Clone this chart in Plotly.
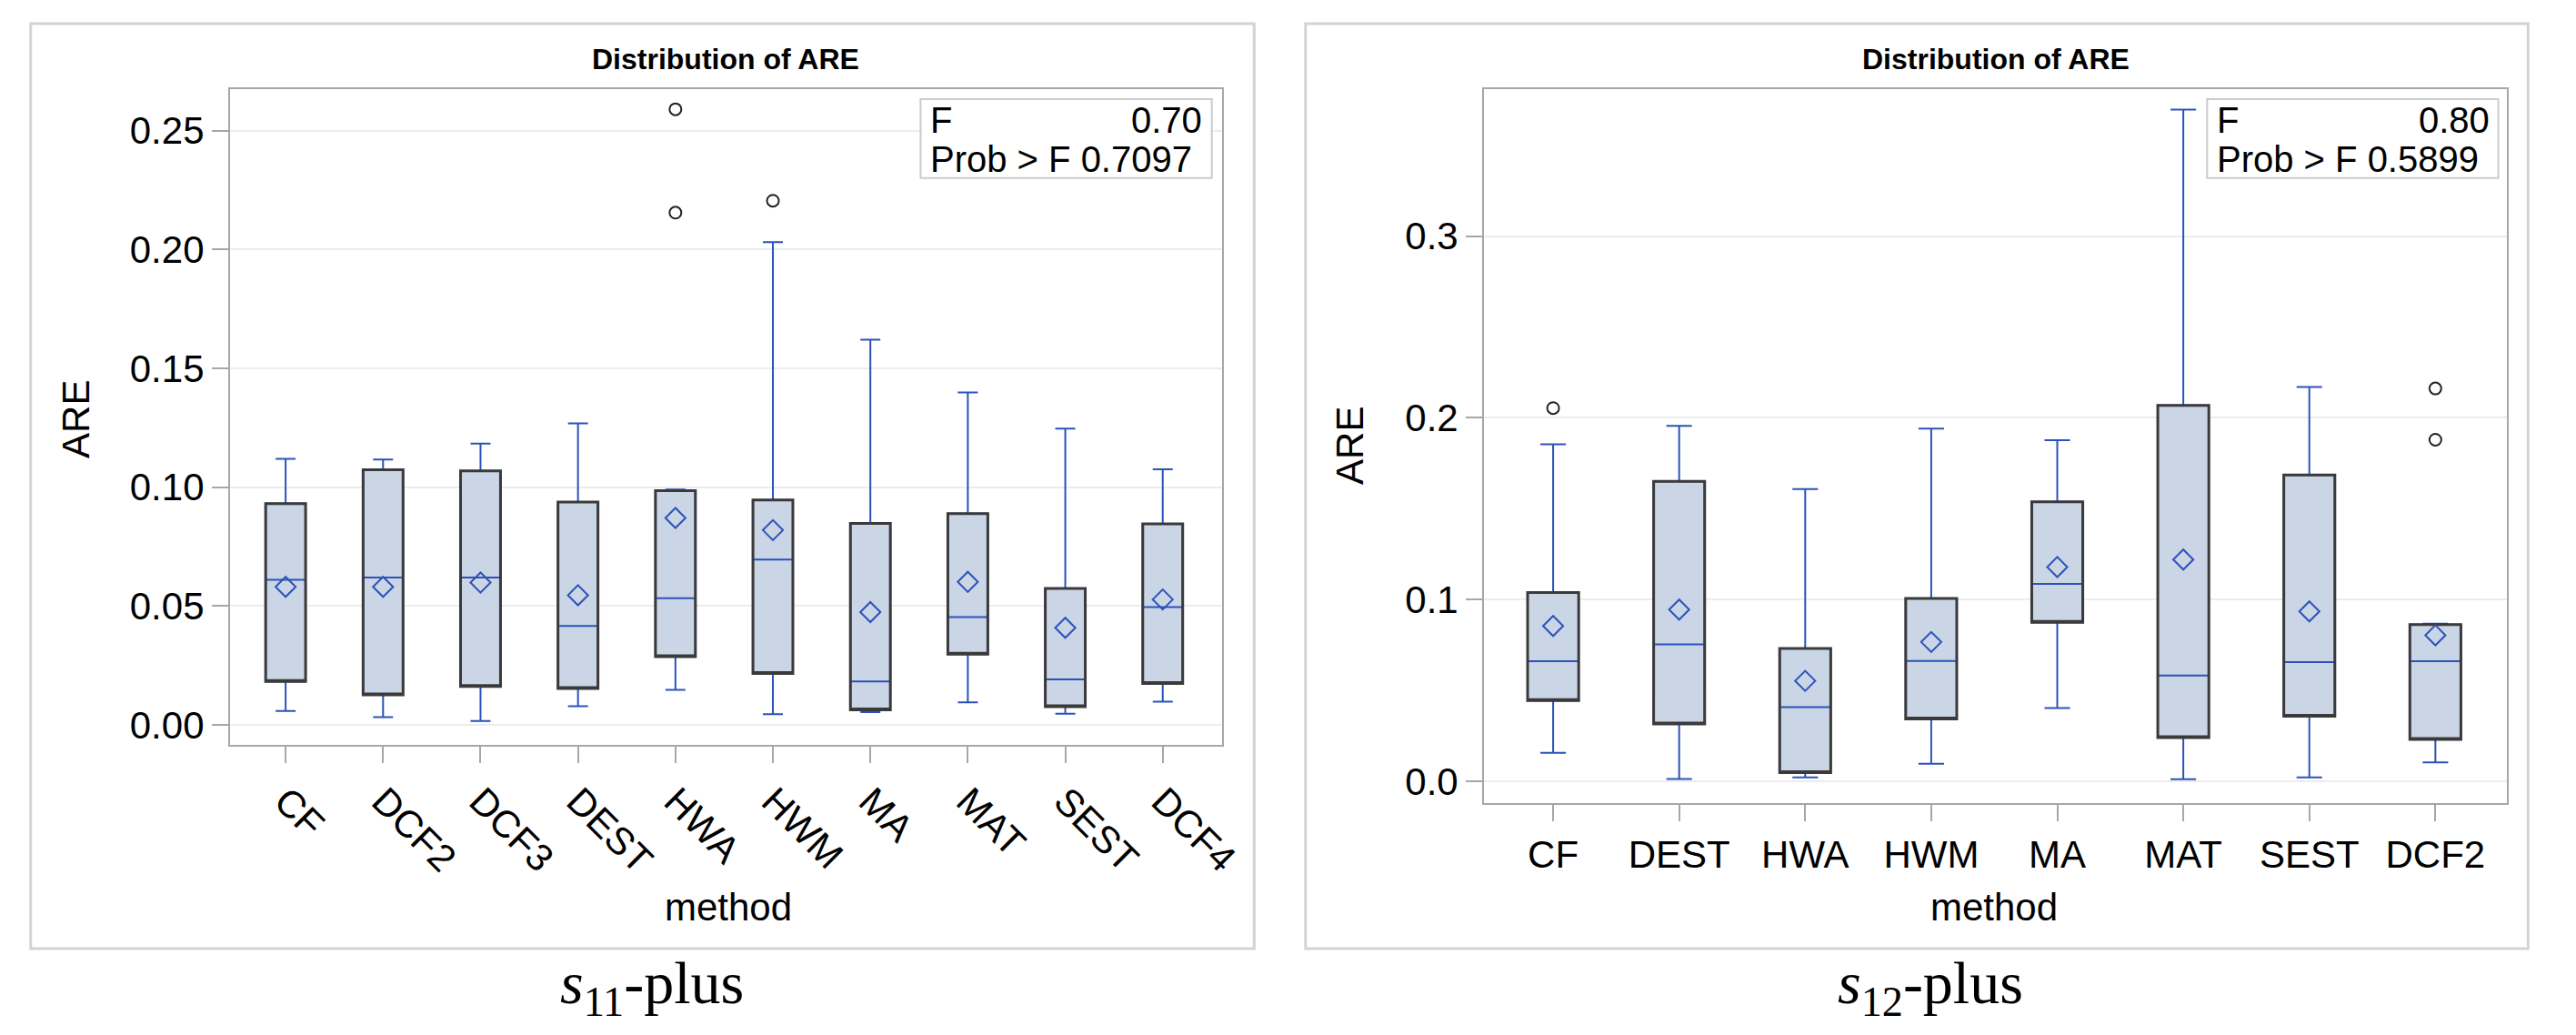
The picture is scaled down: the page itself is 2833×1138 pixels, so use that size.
import plotly.graph_objects as go

# ---------------- data ----------------
left_methods = ["CF", "DCF2", "DCF3", "DEST", "HWA", "HWM", "MA", "MAT", "SEST", "DCF4"]
left_upper = [0.1119, 0.1116, 0.1183, 0.1268, 0.0990, 0.2031, 0.1620, 0.1398, 0.1246, 0.1075]
left_q3 = [0.0930, 0.1073, 0.1068, 0.0937, 0.0985, 0.0946, 0.0847, 0.0888, 0.0573, 0.0845]
left_median = [0.0610, 0.0619, 0.0619, 0.0416, 0.0532, 0.0695, 0.0182, 0.0453, 0.0191, 0.0495]
left_mean = [0.0580, 0.0580, 0.0598, 0.0545, 0.0870, 0.0819, 0.0474, 0.0601, 0.0408, 0.0527]
left_q1 = [0.0182, 0.0126, 0.0161, 0.0152, 0.0286, 0.0216, 0.0062, 0.0297, 0.0076, 0.0173]
left_lower = [0.0058, 0.0032, 0.0016, 0.0078, 0.0147, 0.0044, 0.0053, 0.0094, 0.0046, 0.0097]
left_out_method = ["HWA", "HWA", "HWM"]
left_out_value = [0.2590, 0.2155, 0.2205]
left_F = "0.70"
left_p = "0.7097"
left_ticks = [0.00, 0.05, 0.10, 0.15, 0.20, 0.25]
left_ticklabels = ["0.00", "0.05", "0.10", "0.15", "0.20", "0.25"]

right_methods = ["CF", "DEST", "HWA", "HWM", "MA", "MAT", "SEST", "DCF2"]
right_upper = [0.1855, 0.1956, 0.1608, 0.1941, 0.1878, 0.3695, 0.2170, 0.0868]
right_q3 = [0.1040, 0.1651, 0.0732, 0.1007, 0.1538, 0.2069, 0.1686, 0.0863]
right_median = [0.0662, 0.0755, 0.0410, 0.0664, 0.1087, 0.0584, 0.0657, 0.0662]
right_mean = [0.0856, 0.0946, 0.0554, 0.0768, 0.1180, 0.1221, 0.0936, 0.0805]
right_q1 = [0.0446, 0.0317, 0.0050, 0.0345, 0.0876, 0.0242, 0.0360, 0.0232]
right_lower = [0.0159, 0.0015, 0.0023, 0.0098, 0.0405, 0.0013, 0.0023, 0.0106]
right_out_method = ["CF", "DCF2", "DCF2"]
right_out_value = [0.2054, 0.2162, 0.1880]
right_F = "0.80"
right_p = "0.5899"
right_ticks = [0.0, 0.1, 0.2, 0.3]
right_ticklabels = ["0.0", "0.1", "0.2", "0.3"]

# ---------------- styling ----------------
W, H = 2833, 1138
FILL = "#CAD5E6"
BLUE = "#2B52BA"
DARK = "#3A3A3A"
AXIS = "#A4A8AD"
GRID = "#ECECEC"
SANS = "Liberation Sans"
SERIF = "Liberation Serif"


def px(x):
    return x / W


def py(y):
    return 1 - y / H


fig = go.Figure()


def add_panel(methods, q1, med, q3, lo, hi, mean, out_m, out_v, xa, ya, bw):
    # fill + blue whiskers/median
    fig.add_trace(go.Box(
        x=methods, q1=q1, median=med, q3=q3, lowerfence=lo, upperfence=hi,
        xaxis=xa, yaxis=ya, fillcolor=FILL, line=dict(color=BLUE, width=2),
        width=bw, whiskerwidth=0.5, boxpoints=False, hoverinfo="skip"))
    # dark box outline
    fig.add_trace(go.Box(
        x=methods, q1=q1, median=q1, q3=q3, lowerfence=q1, upperfence=q3,
        xaxis=xa, yaxis=ya, fillcolor="rgba(0,0,0,0)", line=dict(color=DARK, width=3),
        width=bw, whiskerwidth=0.0, boxpoints=False, hoverinfo="skip"))
    # means
    fig.add_trace(go.Scatter(
        x=methods, y=mean, xaxis=xa, yaxis=ya, mode="markers",
        marker=dict(symbol="diamond-open", size=17, color=BLUE, line=dict(width=2)),
        hoverinfo="skip"))
    # outliers
    fig.add_trace(go.Scatter(
        x=out_m, y=out_v, xaxis=xa, yaxis=ya, mode="markers",
        marker=dict(symbol="circle-open", size=13, color="#222222", line=dict(width=2)),
        hoverinfo="skip"))


add_panel(left_methods, left_q1, left_median, left_q3, left_lower, left_upper,
          left_mean, left_out_method, left_out_value, "x", "y", 0.41)
add_panel(right_methods, right_q1, right_median, right_q3, right_lower, right_upper,
          right_mean, right_out_method, right_out_value, "x2", "y2", 0.405)

common_axis = dict(showline=True, mirror=True, linecolor=AXIS, linewidth=2,
                   ticks="outside", ticklen=18, tickwidth=2, tickcolor=AXIS,
                   tickfont=dict(family=SANS, size=42, color="black"),
                   zeroline=False, fixedrange=True)

fig.update_layout(
    width=W, height=H, autosize=False,
    margin=dict(l=0, r=0, t=0, b=0),
    paper_bgcolor="white", plot_bgcolor="white",
    showlegend=False, boxmode="overlay",
    xaxis=dict(domain=[px(247), px(1347)], anchor="y", type="category",
               categoryorder="array", categoryarray=left_methods,
               range=[-0.571, 9.605], tickangle=45, showgrid=False, **common_axis),
    yaxis=dict(domain=[py(812), py(90)], anchor="x", range=[-0.0086, 0.2675],
               tickvals=left_ticks, ticktext=left_ticklabels,
               showgrid=True, gridcolor=GRID, gridwidth=2, **common_axis),
    xaxis2=dict(domain=[px(1638), px(2772)], anchor="y2", type="category",
                categoryorder="array", categoryarray=right_methods,
                range=[-0.548, 7.564], tickangle=0, showgrid=False, **common_axis),
    yaxis2=dict(domain=[py(876), py(90)], anchor="x2", range=[-0.0119, 0.3808],
                tickvals=right_ticks, ticktext=right_ticklabels,
                showgrid=True, gridcolor=GRID, gridwidth=2, **common_axis),
)

shapes = []
# outer panel frames
for x0, x1 in [(26, 1383), (1440, 2796)]:
    shapes.append(dict(type="rect", xref="paper", yref="paper",
                       x0=px(x0), x1=px(x1), y0=py(1036), y1=py(18),
                       line=dict(color="#D3D3D3", width=3), layer="below"))
# inset boxes
for x0, x1 in [(1013, 1336), (2440, 2763)]:
    shapes.append(dict(type="rect", xref="paper", yref="paper",
                       x0=px(x0), x1=px(x1), y0=py(188), y1=py(101),
                       line=dict(color="#CBCBCB", width=2), fillcolor="white",
                       layer="above"))
fig.update_layout(shapes=shapes)

ann = []


def text(t, x, y, size, xanchor="center", family=SANS, angle=0, yanchor="middle"):
    ann.append(dict(text=t, x=px(x), y=py(y), xref="paper", yref="paper",
                    showarrow=False, xanchor=xanchor, yanchor=yanchor, textangle=angle,
                    font=dict(family=family, size=size, color="black")))


# titles
text("<b>Distribution of ARE</b>", 797, 57, 32)
text("<b>Distribution of ARE</b>", 2206, 57, 32)
# axis titles
text("method", 800, 990, 42)
text("method", 2204, 990, 42)
text("ARE", 76, 453, 42, angle=-90)
text("ARE", 1489, 482, 42, angle=-90)
# inset stats
text("F", 1022, 124, 40, xanchor="left")
text(left_F, 1327, 124, 40, xanchor="right")
text("Prob > F " + left_p, 1022, 167, 40, xanchor="left")
text("F", 2449, 124, 40, xanchor="left")
text(right_F, 2755, 124, 40, xanchor="right")
text("Prob > F " + right_p, 2449, 167, 40, xanchor="left")
# captions
text("<i>s</i><sub>11</sub>-plus", 715, 1078, 66, family=SERIF)
text("<i>s</i><sub>12</sub>-plus", 2133, 1078, 66, family=SERIF)

fig.update_layout(annotations=ann)

fig.write_html("out.html")
